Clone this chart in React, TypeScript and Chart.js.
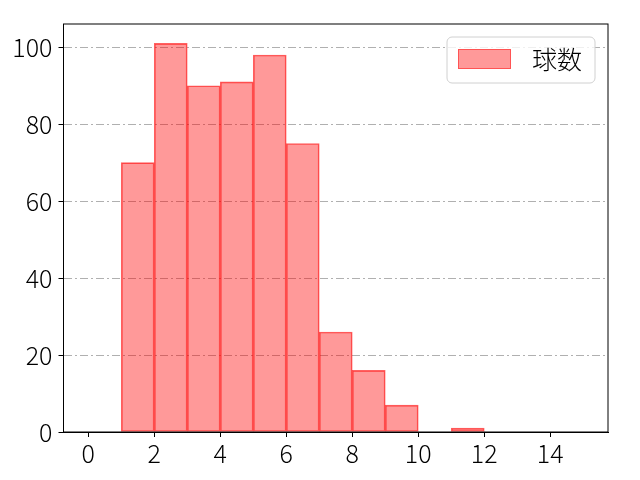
import React, { useEffect, useRef } from "react";
import { Chart, registerables } from "chart.js";

Chart.register(...registerables);

const binStarts = [0, 1, 2, 3, 4, 5, 6, 7, 8, 9, 10, 11, 12, 13, 14];
const counts = [0, 70, 101, 90, 91, 98, 75, 26, 16, 7, 0, 1, 0, 0, 0];
const xTicks = [0, 2, 4, 6, 8, 10, 12, 14];
const yTicks = [0, 20, 40, 60, 80, 100];
const legendLabel = "球数";

const FONT = "'Noto Sans CJK JP', 'Noto Sans', sans-serif";
const FILL = "rgba(255,0,0,0.4)";
const EDGE = "rgba(255,0,0,0.62)";

const framePlugin = {
  id: "frame",
  afterDraw(chart: any) {
    const { ctx, chartArea: a } = chart;
    ctx.save();
    ctx.strokeStyle = "#000";
    ctx.lineWidth = 1;
    ctx.setLineDash([]);
    ctx.strokeRect(a.left, a.top, a.right - a.left, a.bottom - a.top);
    // legend
    const bx = 447, by = 37, bw = 148, bh = 46, r = 5;
    ctx.beginPath();
    ctx.moveTo(bx + r, by);
    ctx.arcTo(bx + bw, by, bx + bw, by + bh, r);
    ctx.arcTo(bx + bw, by + bh, bx, by + bh, r);
    ctx.arcTo(bx, by + bh, bx, by, r);
    ctx.arcTo(bx, by, bx + bw, by, r);
    ctx.closePath();
    ctx.fillStyle = "rgba(255,255,255,0.8)";
    ctx.fill();
    ctx.strokeStyle = "#d0d0d0";
    ctx.stroke();
    ctx.fillStyle = FILL;
    ctx.fillRect(458, 49, 53, 20);
    ctx.strokeStyle = "rgba(255,0,0,0.45)";
    ctx.strokeRect(458.5, 49.5, 52, 19);
    ctx.fillStyle = "#000";
    ctx.font = `300 25px ${FONT}`;
    ctx.textBaseline = "middle";
    ctx.textAlign = "left";
    ctx.fillText(legendLabel, 532, 59);
    ctx.restore();
  },
};

export default function App() {
  const ref = useRef<HTMLCanvasElement>(null);
  useEffect(() => {
    document.body.style.margin = "0";
    const chart = new Chart(ref.current!, {
      type: "bar",
      data: {
        datasets: [
          {
            label: legendLabel,
            data: binStarts.map((b, i) => ({ x: b + 0.5, y: counts[i] })),
            backgroundColor: FILL,
            borderColor: EDGE,
            borderWidth: 1,
            borderSkipped: false,
            barPercentage: 1,
            categoryPercentage: 1,
          },
        ],
      },
      options: {
        animation: false,
        responsive: false,
        layout: { padding: { top: 24, right: 32, left: 0, bottom: 0 } },
        plugins: { legend: { display: false }, tooltip: { enabled: false } },
        scales: {
          x: {
            type: "linear",
            min: -0.75,
            max: 15.75,
            offset: false,
            afterBuildTicks: (s: any) => {
              s.ticks = xTicks.map((v) => ({ value: v }));
            },
            afterFit: (s: any) => {
              s.height = 48;
            },
            grid: {
              offset: false,
              drawOnChartArea: false,
              drawTicks: true,
              tickLength: 5,
              tickColor: "#000",
            },
            border: { display: true, color: "#000" },
            ticks: {
              color: "#000",
              font: { family: FONT, size: 25, weight: 300 },
              padding: 1,
              maxRotation: 0,
              autoSkip: false,
            },
          },
          y: {
            type: "linear",
            min: 0,
            max: 106.05,
            afterBuildTicks: (s: any) => {
              s.ticks = yTicks.map((v) => ({ value: v }));
            },
            afterFit: (s: any) => {
              s.width = 63.5;
            },
            grid: {
              color: "#b0b0b0",
              lineWidth: 1,
              drawTicks: true,
              tickLength: 5,
              tickColor: "#000",
              tickBorderDash: [],
            },
            border: { display: true, color: "#000", dash: [8, 3, 2, 3] },
            ticks: {
              color: "#000",
              font: { family: FONT, size: 25, weight: 300 },
              padding: 6,
              autoSkip: false,
            },
          },
        },
      },
      plugins: [framePlugin],
    } as any);
    return () => chart.destroy();
  }, []);
  return (
    <div style={{ width: 640, height: 480 }}>
      <canvas ref={ref} width={640} height={480} />
    </div>
  );
}
